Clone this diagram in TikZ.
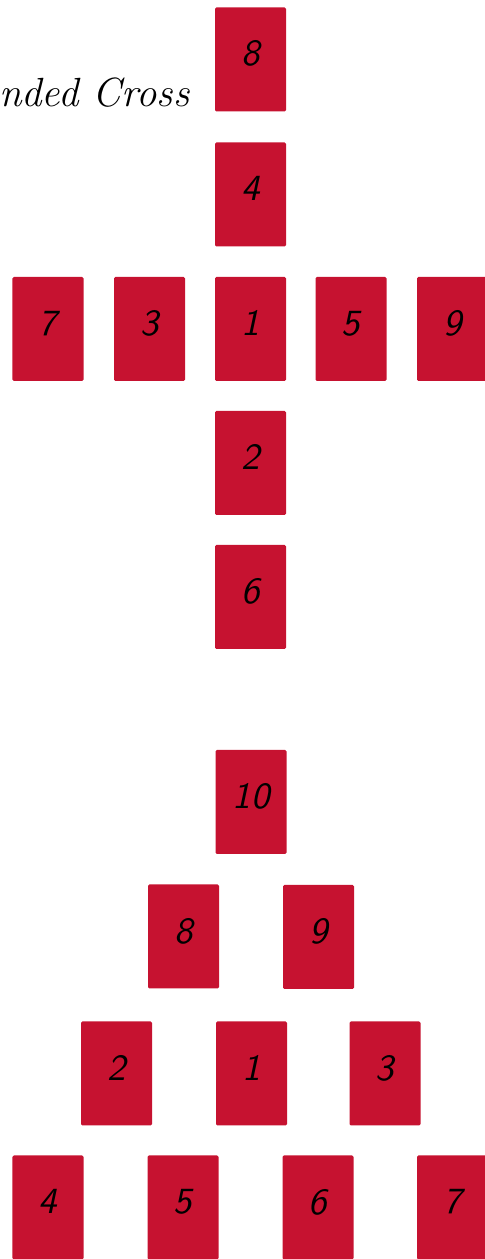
\documentclass[tikz,border=0pt]{standalone}
\usepackage{tikz}
\usetikzlibrary{positioning}
\definecolor{cardred}{RGB}{198,18,48}

\begin{document}
\begin{tikzpicture}[
    card/.style={fill=cardred, rounded corners=0.4pt, inner sep=0pt,
      minimum width=0.71cm, minimum height=1.04cm, text depth=1.2mm,
      font=\fontsize{10.5}{12}\selectfont\sffamily\itshape}]

  \useasboundingbox (0,0) rectangle (4.84,12.59);

  %% ── Heading (cut at the left edge) ──────────────────────────────
  \node[anchor=base east, inner sep=0pt, font=\fontsize{11.6}{13}\selectfont\itshape]
    (heading) at (1.90,11.52) {nded Cross};

  %% ── Extended cross ──────────────────────────────────────────────
  \node[card] (x8) at (2.505,11.995) {8};
  \node[card] (x4) at (2.505,10.645) {4};
  \foreach \n/\x in {7/0.48, 3/1.495, 1/2.505, 5/3.51, 9/4.525}{
    \node[card] (x\n) at (\x,9.30) {\n};
  }
  \node[card] (x2) at (2.505,7.96) {2};
  \node[card] (x6) at (2.505,6.62) {6};

  %% ── Pyramid ─────────────────────────────────────────────────────
  \node[card] (p10) at (2.51,4.57) {10};

  \node[card] (p8) at (1.835,3.225) {8};
  \node[card] (p9) at (3.185,3.22) {9};

  \node[card] (p2) at (1.165,1.855) {2};
  \node[card] (p1) at (2.515,1.855) {1};
  \node[card] (p3) at (3.85,1.855) {3};

  \foreach \n/\x in {4/0.48, 5/1.83, 6/3.18, 7/4.525}{
    \node[card] (p\n) at (\x,0.515) {\n};
  }

\end{tikzpicture}
\end{document}
